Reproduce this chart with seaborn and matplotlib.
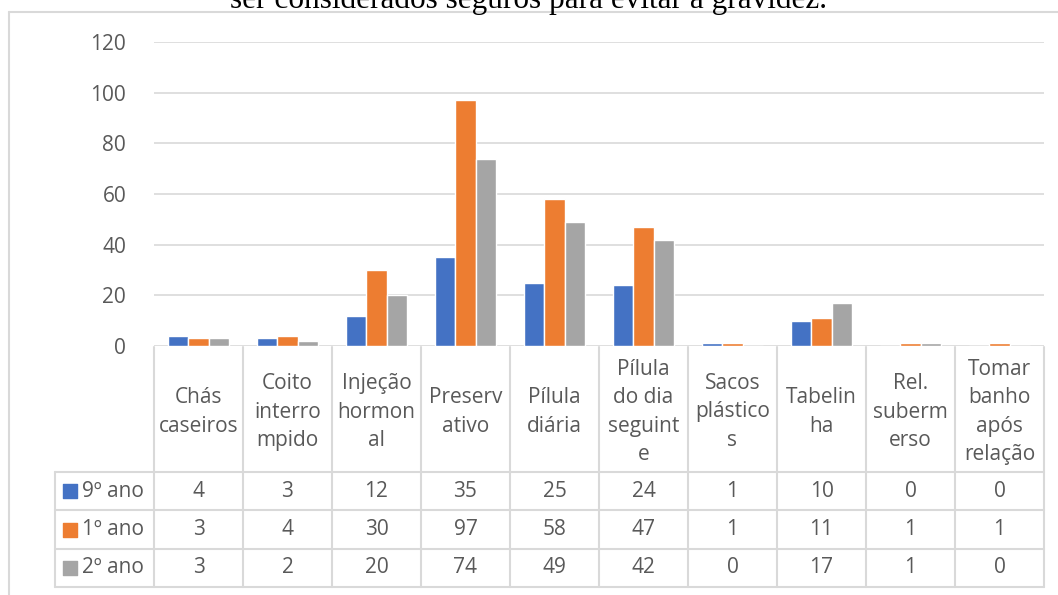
import pandas as pd
import matplotlib.pyplot as plt
import seaborn as sns
from matplotlib.lines import Line2D

# Data
categories = ["Chás caseiros", "Coito interrompido", "Injeção hormonal", "Preservativo",
              "Pílula diária", "Pílula do dia seguinte", "Sacos plásticos", "Tabelinha",
              "Rel. subermerso", "Tomar banho após relação"]
# header labels as wrapped by Excel in the data table
header_labels = ["Chás\ncaseiros", "Coito\ninterro\nmpido", "Injeção\nhormon\nal", "Preserv\nativo",
                 "Pílula\ndiária", "Pílula\ndo dia\nseguint\ne", "Sacos\nplástico\ns", "Tabelin\nha",
                 "Rel.\nsuberm\nerso", "Tomar\nbanho\napós\nrelação"]
series_names = ["9º ano", "1º ano", "2º ano"]
ano9 = [4, 3, 12, 35, 25, 24, 1, 10, 0, 0]
ano1 = [3, 4, 30, 97, 58, 47, 1, 11, 1, 1]
ano2 = [3, 2, 20, 74, 49, 42, 0, 17, 1, 0]
colors = ["#4472C4", "#ED7D31", "#A5A5A5"]
title = "ser considerados seguros para evitar a gravidez."

sns.set_style("white")
plt.rcParams["font.family"] = ["Open Sans", "DejaVu Sans"]
text_color = "#595959"
grid_color = "#d9d9d9"
fs = 15

values = [ano9, ano1, ano2]
df = pd.DataFrame({
    "categoria": categories * 3,
    "ano": [s for s in series_names for _ in categories],
    "valor": ano9 + ano1 + ano2,
})

W, H = 1058, 595
fig = plt.figure(figsize=(W / 100, H / 100), dpi=100)

# plot area (pixel layout of the reference)
left, right, top, zero = 154, 1044, 42, 346
ax = fig.add_axes([left / W, (H - zero) / H, (right - left) / W, (zero - top) / H])
sns.barplot(data=df, x="categoria", y="valor", hue="ano", palette=colors,
            width=0.675, ax=ax, legend=False, saturation=1)
ax.set_xlim(-0.5, len(categories) - 0.5)
ax.set_ylim(0, 120)
ax.set_yticks(range(0, 121, 20))
ax.yaxis.grid(True, color=grid_color, linewidth=1.2)
ax.set_axisbelow(True)
ax.set_xticks([])
ax.set_xlabel("")
ax.set_ylabel("")
for s in ax.spines.values():
    s.set_visible(False)
ax.tick_params(axis="y", length=0, pad=20, labelsize=fs, labelcolor=text_color)

# data table below the chart
col_w = (right - left) / len(categories)
leg_left, header_bottom, bottom = 55, 472, 587
row_h = (bottom - header_bottom) / 3
tax = fig.add_axes([leg_left / W, (H - bottom) / H, (right - leg_left) / W, (bottom - zero) / H])
x0 = -0.5 - (left - leg_left) / col_w
tax.set_xlim(x0, len(categories) - 0.5)
tax.set_ylim(bottom, zero)
tax.axis("off")

def px(x):
    return -0.5 + (x - left) / col_w

lw = 1.5
for i in range(len(categories) + 1):
    tax.plot([i - 0.5, i - 0.5], [zero + 1, bottom], color=grid_color, lw=lw, clip_on=False)
tax.plot([x0, x0], [header_bottom, bottom], color=grid_color, lw=lw, clip_on=False)
for r in range(4):
    y = header_bottom + r * row_h
    tax.plot([x0, len(categories) - 0.5], [y, y], color=grid_color, lw=lw, clip_on=False)

for i, lab in enumerate(header_labels):
    tax.text(i, (zero + header_bottom) / 2 + 3, lab, ha="center", va="center",
             fontsize=fs, color=text_color, linespacing=1.45)

for r, (name, vals, c) in enumerate(zip(series_names, values, colors)):
    yc = header_bottom + (r + 0.5) * row_h
    tax.scatter([px(70)], [yc], marker="s", s=95, color=c, clip_on=False)
    tax.text(px(82), yc, name, ha="left", va="center", fontsize=fs, color=text_color)
    for i, v in enumerate(vals):
        tax.text(i, yc, str(v), ha="center", va="center", fontsize=fs, color=text_color)

# chart-area border and the cut-off title above it
fig.add_artist(Line2D([9 / W, 9 / W], [0, 1 - 12 / H], transform=fig.transFigure,
                      color=grid_color, lw=1.5))
fig.add_artist(Line2D([9 / W, 1], [1 - 12 / H, 1 - 12 / H], transform=fig.transFigure,
                      color=grid_color, lw=1.5))
fig.text(0.5, 1 - 8 / H, title, ha="center", va="baseline", fontsize=22.5,
         family="Liberation Serif", color="black")

fig.savefig("out.png", dpi=100)
